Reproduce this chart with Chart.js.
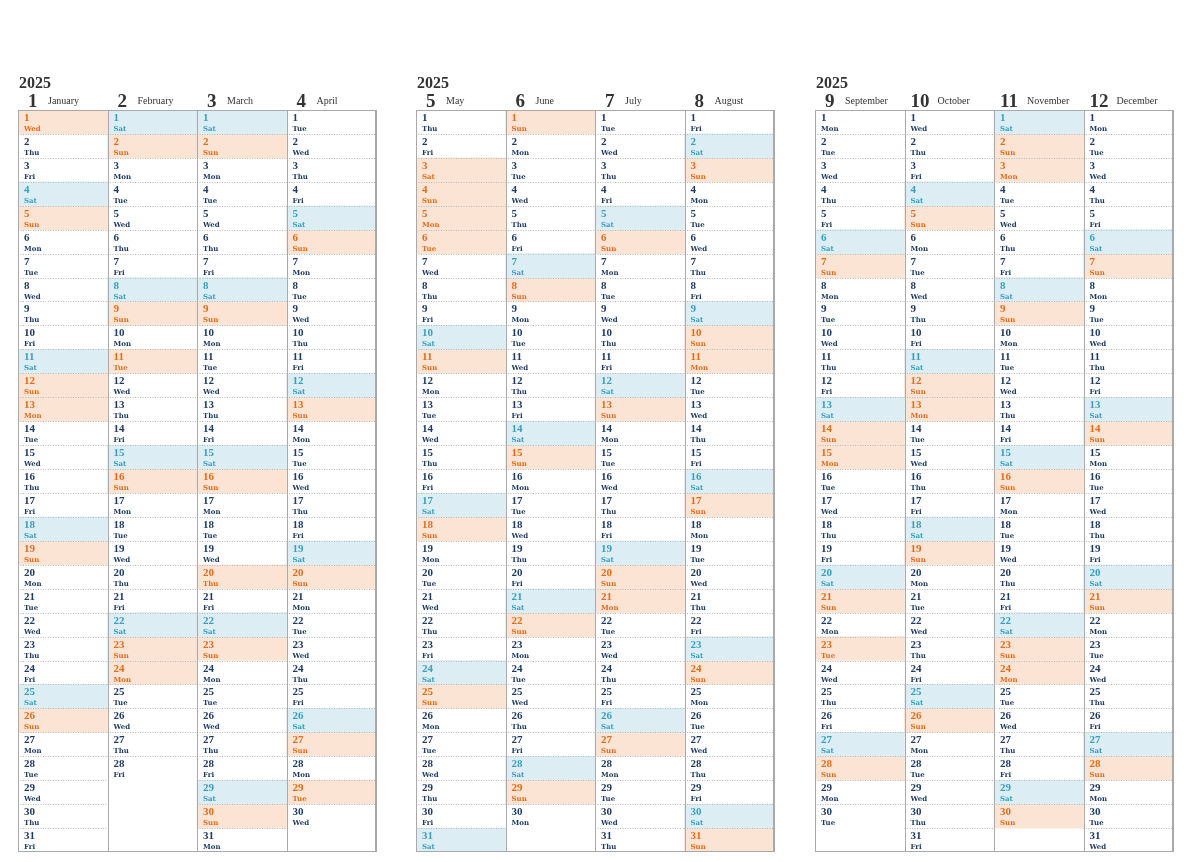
<!DOCTYPE html>
<html>
<head>
<meta charset="utf-8">
<script src="https://cdn.jsdelivr.net/npm/chart.js@4.4.1/dist/chart.umd.min.js"></script>
<style>
  body { margin: 0; background: #fff; width: 1200px; height: 862px; position: relative; overflow: hidden; }
  canvas { position: absolute; top: 60px; }
</style>
</head>
<body>
<canvas id="p0" width="360" height="795" style="left:17px"></canvas>
<canvas id="p1" width="360" height="795" style="left:415px"></canvas>
<canvas id="p2" width="360" height="795" style="left:814px"></canvas>
<script>
// Data
const year = 2025;
const panels = [[1, 2, 3, 4], [5, 6, 7, 8], [9, 10, 11, 12]];
const monthNames = ["January", "February", "March", "April", "May", "June",
  "July", "August", "September", "October", "November", "December"];
const dayNames = ["Sun", "Mon", "Tue", "Wed", "Thu", "Fri", "Sat"];
const holidays = ["1-1", "1-13", "2-11", "2-23", "2-24", "3-20", "4-29", "5-3", "5-4", "5-5", "5-6",
  "7-21", "8-11", "9-15", "9-23", "10-13", "11-3", "11-23", "11-24"];

// Colours
const INK = "#1d3b63", SAT_INK = "#3a9fbf", SUN_INK = "#e26d1c";
const SAT_BG = "#dcedf3", SUN_BG = "#fbe4d4";

function daysIn(m) { return new Date(year, m, 0).getDate(); }
function kind(m, d) {
    if (holidays.includes(m + "-" + d)) return "sun";
    const w = new Date(year, m - 1, d).getDay();
    if (w === 0) return "sun";
    if (w === 6) return "sat";
    return "day";
}

const calendarPlugin = {
    id: "calendar",
    afterDatasetsDraw(chart) {
        const ctx = chart.ctx, area = chart.chartArea;
        const xs = chart.scales.x, ys = chart.scales.y;
        const months = chart.data.labels.map(Number);
        const colW = xs.getPixelForValue(1) - xs.getPixelForValue(0);
        ctx.save();
        // header
        ctx.fillStyle = "#333";
        ctx.textBaseline = "alphabetic";
        ctx.font = "bold 16px 'Liberation Serif'";
        ctx.fillText(String(year), area.left + 1, 28);
        months.forEach((m, i) => {
            const left = xs.getPixelForValue(i) - colW / 2;
            ctx.font = "bold 19px 'Liberation Serif'";
            ctx.fillStyle = "#333";
            ctx.fillText(String(m), left + (m >= 10 ? 6 : 10), 47);
            ctx.font = "10px 'Liberation Serif'";
            ctx.fillText(monthNames[m - 1], left + (m >= 10 ? 33 : 30), 44);

            // dotted row separators
            ctx.strokeStyle = "#b8b8b8";
            ctx.lineWidth = 1;
            ctx.setLineDash([1, 1.5]);
            for (let d = 1; d < daysIn(m); d++) {
                const y = Math.round(ys.getPixelForValue(d)) + 0.5;
                ctx.beginPath();
                ctx.moveTo(left, y);
                ctx.lineTo(left + colW, y);
                ctx.stroke();
            }
            ctx.setLineDash([]);

            // day labels
            for (let d = 1; d <= daysIn(m); d++) {
                const k = kind(m, d);
                ctx.fillStyle = k === "sun" ? SUN_INK : k === "sat" ? SAT_INK : INK;
                const top = ys.getPixelForValue(d - 1);
                ctx.font = "bold 11px 'Liberation Serif'";
                ctx.fillText(String(d), left + 6, top + 11);
                ctx.font = "bold 7px 'DejaVu Serif'";
                ctx.fillText(dayNames[new Date(year, m - 1, d).getDay()], left + 6, top + 21);
            }
        });
        // column borders
        ctx.strokeStyle = "#a9a9a9";
        ctx.lineWidth = 1;
        for (let i = 0; i <= months.length; i++) {
            const x = Math.round(xs.getPixelForValue(i) - colW / 2) + 0.5;
            ctx.beginPath();
            ctx.moveTo(x, area.top);
            ctx.lineTo(x, area.bottom);
            ctx.stroke();
        }
        ctx.strokeRect(area.left + 0.5, area.top + 0.5, area.right - area.left - 1, area.bottom - area.top - 1);
        ctx.restore();
    }
};

panels.forEach((months, p) => {
    const sat = [], sun = [];
    months.forEach(m => {
        for (let d = 1; d <= daysIn(m); d++) {
            const k = kind(m, d);
            if (k === "sat") sat.push({ x: String(m), y: [d - 1, d] });
            if (k === "sun") sun.push({ x: String(m), y: [d - 1, d] });
        }
    });
    new Chart(document.getElementById("p" + p), {
        type: "bar",
        data: {
            labels: months.map(String),
            datasets: [
                { data: sat, backgroundColor: SAT_BG, barPercentage: 1, categoryPercentage: 1, grouped: false },
                { data: sun, backgroundColor: SUN_BG, barPercentage: 1, categoryPercentage: 1, grouped: false }
            ]
        },
        options: {
            responsive: false,
            animation: false,
            layout: { padding: { top: 50, bottom: 3, left: 1, right: 1 } },
            plugins: { legend: { display: false }, tooltip: { enabled: false } },
            scales: {
                x: { display: false },
                y: { display: false, min: 0, max: 31, reverse: true }
            }
        },
        plugins: [calendarPlugin]
    });
});
</script>
</body>
</html>
